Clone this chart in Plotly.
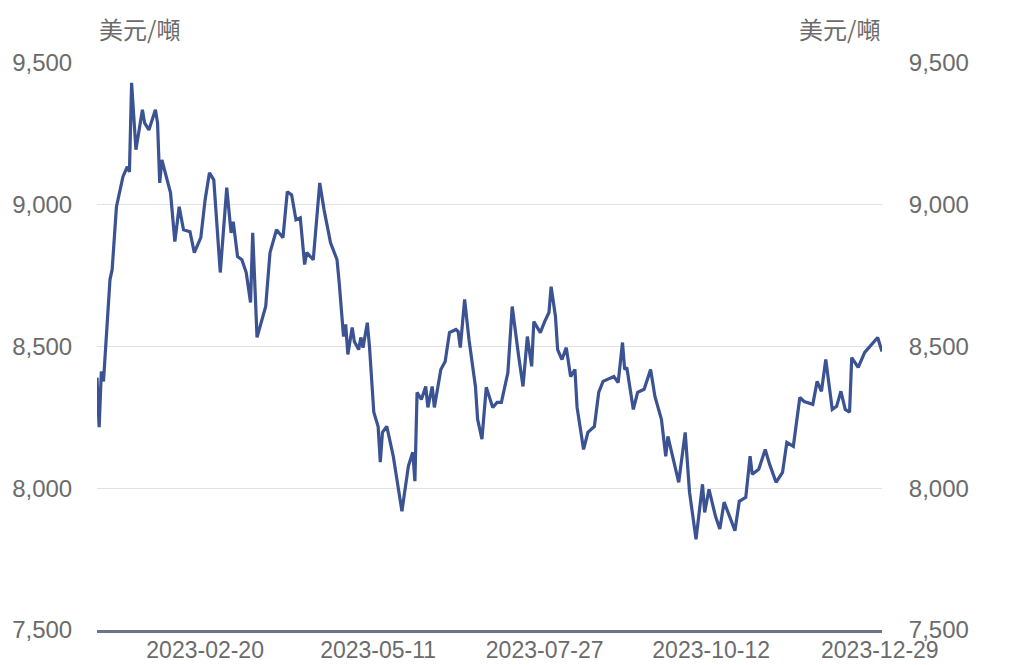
import plotly.graph_objects as go

# Copper price (USD/tonne), 2023
dates = [
    "2023-01-01", "2023-01-02", "2023-01-03", "2023-01-04", "2023-01-07", "2023-01-08",
    "2023-01-10", "2023-01-13", "2023-01-15", "2023-01-16", "2023-01-17", "2023-01-19",
    "2023-01-22", "2023-01-23", "2023-01-25", "2023-01-28", "2023-01-29", "2023-01-30",
    "2023-01-31", "2023-02-04", "2023-02-06", "2023-02-08", "2023-02-10", "2023-02-13",
    "2023-02-15", "2023-02-18", "2023-02-20", "2023-02-22", "2023-02-24", "2023-02-27",
    "2023-03-02", "2023-03-04", "2023-03-05", "2023-03-07", "2023-03-09", "2023-03-11",
    "2023-03-13", "2023-03-14", "2023-03-16", "2023-03-20", "2023-03-22", "2023-03-25",
    "2023-03-28", "2023-03-30", "2023-04-01", "2023-04-03", "2023-04-05", "2023-04-07",
    "2023-04-08", "2023-04-11", "2023-04-14", "2023-04-16", "2023-04-19", "2023-04-22",
    "2023-04-23", "2023-04-25", "2023-04-26", "2023-04-27", "2023-04-29", "2023-04-30",
    "2023-05-02", "2023-05-03", "2023-05-04", "2023-05-06", "2023-05-07", "2023-05-09",
    "2023-05-11", "2023-05-12", "2023-05-13", "2023-05-15", "2023-05-18", "2023-05-22",
    "2023-05-25", "2023-05-27", "2023-05-28", "2023-05-29", "2023-05-31", "2023-06-02",
    "2023-06-03", "2023-06-05", "2023-06-06", "2023-06-08", "2023-06-09", "2023-06-11",
    "2023-06-13", "2023-06-16", "2023-06-17", "2023-06-18", "2023-06-20", "2023-06-22",
    "2023-06-25", "2023-06-26", "2023-06-28", "2023-06-30", "2023-07-03", "2023-07-05",
    "2023-07-07", "2023-07-10", "2023-07-12", "2023-07-15", "2023-07-17", "2023-07-19",
    "2023-07-21", "2023-07-22", "2023-07-25", "2023-07-27", "2023-07-29", "2023-07-30",
    "2023-08-01", "2023-08-02", "2023-08-04", "2023-08-06", "2023-08-08", "2023-08-10",
    "2023-08-11", "2023-08-14", "2023-08-16", "2023-08-19", "2023-08-21", "2023-08-23",
    "2023-08-25", "2023-08-28", "2023-08-30", "2023-09-01", "2023-09-02", "2023-09-03",
    "2023-09-06", "2023-09-08", "2023-09-11", "2023-09-14", "2023-09-16", "2023-09-19",
    "2023-09-21", "2023-09-22", "2023-09-27", "2023-09-30", "2023-10-02", "2023-10-05",
    "2023-10-08", "2023-10-09", "2023-10-11", "2023-10-14", "2023-10-16", "2023-10-18",
    "2023-10-21", "2023-10-23", "2023-10-25", "2023-10-28", "2023-10-30", "2023-10-31",
    "2023-11-03", "2023-11-06", "2023-11-08", "2023-11-11", "2023-11-14", "2023-11-16",
    "2023-11-19", "2023-11-22", "2023-11-24", "2023-11-28", "2023-11-30", "2023-12-02",
    "2023-12-04", "2023-12-05", "2023-12-07", "2023-12-09", "2023-12-11", "2023-12-13",
    "2023-12-15", "2023-12-16", "2023-12-19", "2023-12-22", "2023-12-25", "2023-12-28",
    "2023-12-30",
]
prices = [
    8390, 8215, 8412, 8377, 8736, 8771,
    8993, 9099, 9134, 9116, 9430, 9194,
    9335, 9289, 9264, 9335, 9289, 9077,
    9158, 9042, 8870, 8993, 8912, 8905,
    8831, 8884, 9018, 9113, 9088, 8761,
    9060, 8901, 8940, 8817, 8806, 8761,
    8655, 8901, 8532, 8641, 8831, 8912,
    8884, 9046, 9035, 8947, 8954, 8789,
    8831, 8806, 9077, 8982, 8866, 8806,
    8725, 8535, 8578, 8472, 8567, 8518,
    8489, 8532, 8496, 8584, 8500, 8268,
    8218, 8092, 8197, 8218, 8113, 7919,
    8078, 8127, 8025, 8338, 8313, 8359,
    8285, 8359, 8285, 8384, 8419, 8447,
    8549, 8560, 8553, 8496, 8666, 8525,
    8359, 8243, 8173, 8356, 8285, 8303,
    8303, 8408, 8641, 8465, 8359, 8535,
    8430, 8588, 8549, 8588, 8620, 8711,
    8606, 8489, 8454, 8496, 8394, 8419,
    8285, 8137, 8197, 8218, 8338, 8377,
    8384, 8394, 8373, 8514, 8419, 8426,
    8278, 8338, 8349, 8419, 8324, 8243,
    8113, 8183, 8021, 8197, 7986, 7820,
    8014, 7915, 7996, 7901, 7856, 7951,
    7891, 7850, 7954, 7968, 8113, 8049,
    8067, 8137, 8085, 8021, 8056, 8162,
    8148, 8320, 8306, 8296, 8377, 8342,
    8454, 8394, 8278, 8289, 8342, 8278,
    8268, 8461, 8426, 8479, 8507, 8532,
    8482,
]

x_ticks = ["2023-02-20", "2023-05-11", "2023-07-27", "2023-10-12", "2023-12-29"]
y_ticks = [7500, 8000, 8500, 9000, 9500]
y_tick_text = ["7,500", "8,000", "8,500", "9,000", "9,500"]
unit_label = "美元/噸"

FONT = "Liberation Sans, Arial, Noto Sans CJK TC, sans-serif"
CJK_FONT = "Noto Sans CJK TC, sans-serif"
GREY = "#6b6b6b"

fig = go.Figure()
fig.add_trace(go.Scatter(
    x=dates, y=prices, mode="lines",
    line=dict(color="#3b5293", width=3.2),
    showlegend=False, hoverinfo="x+y",
))
# same series bound to the right-hand axis (invisible) so that axis is drawn
fig.add_trace(go.Scatter(
    x=dates, y=prices, mode="lines", yaxis="y2",
    line=dict(color="rgba(0,0,0,0)", width=0),
    showlegend=False, hoverinfo="skip",
))

# page body has an 8px margin, so the figure is sized/positioned to compensate
fig.update_layout(
    width=1009, height=657,
    margin=dict(l=89, r=135, t=55, b=35, autoexpand=False),
    paper_bgcolor="white", plot_bgcolor="white",
    font=dict(family=FONT, color=GREY, size=24),
    showlegend=False,
    xaxis=dict(
        type="date",
        range=[dates[0], dates[-1]],
        tickvals=x_ticks, ticktext=x_ticks,
        showgrid=False, zeroline=False,
        showline=True, linecolor="#6f728c", linewidth=2.5,
        ticks="",
        ticklabelstandoff=-2,
        tickfont=dict(size=23, color=GREY, family=FONT),
        automargin=False,
    ),
    yaxis=dict(
        range=[7500, 9500],
        tickvals=y_ticks, ticktext=y_tick_text,
        showgrid=True, gridcolor="#e2e2e2", gridwidth=1,
        zeroline=False, showline=False,
        ticks="outside", ticklen=19, tickcolor="rgba(0,0,0,0)",
        tickfont=dict(size=24, color=GREY, family=FONT),
        automargin=False,
    ),
    yaxis2=dict(
        overlaying="y", side="right", anchor="x",
        range=[7500, 9500],
        tickvals=y_ticks, ticktext=y_tick_text,
        showgrid=False, zeroline=False, showline=False,
        ticks="outside", ticklen=21, tickcolor="rgba(0,0,0,0)",
        tickfont=dict(size=24, color=GREY, family=FONT),
        automargin=False,
    ),
)

fig.add_annotation(
    text=unit_label, xref="paper", yref="paper", x=0, y=1,
    xanchor="left", yanchor="middle", yshift=35, showarrow=False,
    font=dict(size=24, color=GREY, family=CJK_FONT),
)
fig.add_annotation(
    text=unit_label, xref="paper", yref="paper", x=1, y=1,
    xanchor="right", yanchor="middle", yshift=35, showarrow=False,
    font=dict(size=24, color=GREY, family=CJK_FONT),
)

fig.write_html("out.html")
